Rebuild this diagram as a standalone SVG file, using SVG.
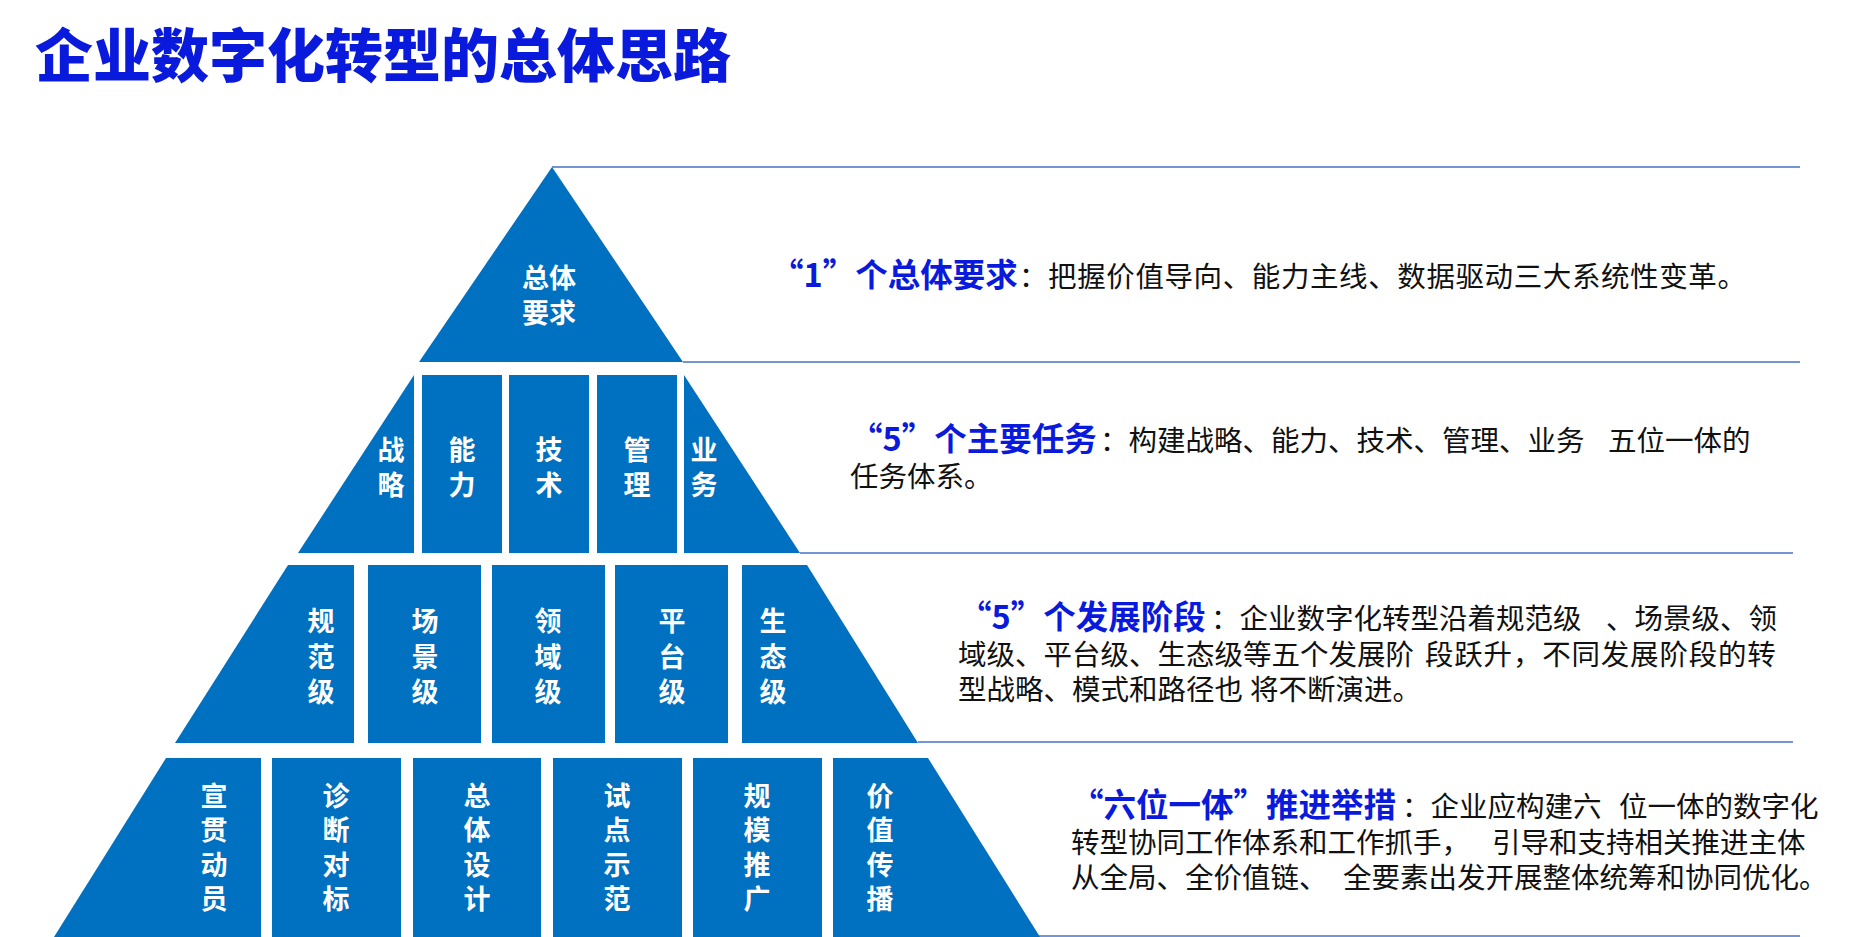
<svg xmlns="http://www.w3.org/2000/svg" width="1853" height="937" viewBox="0 0 1853 937">
<style>
.blk{fill:#0070C0}
.sep{stroke:#4472C4;stroke-width:1.5;fill:none}
.wt{fill:#FFFFFF;font-family:"Noto Sans CJK SC",sans-serif;font-weight:700;font-size:27px;text-anchor:middle}
.vt{fill:#FFFFFF;font-family:"Noto Sans CJK SC",sans-serif;font-weight:700;font-size:27px;writing-mode:vertical-rl;text-orientation:upright}
.t2{letter-spacing:8px}
.t3{letter-spacing:8.5px}
.t4{letter-spacing:7.5px}
.title{fill:#0A1ADC;font-family:"Noto Sans CJK SC",sans-serif;font-weight:900;font-size:58px}
.hd{fill:#0A1ADC;font-weight:700;font-size:32.5px}
.para{fill:#111111;font-family:"Noto Sans CJK SC",sans-serif;font-weight:400;font-size:28.5px}
</style>
<rect x="0" y="0" width="1853" height="937" fill="#FFFFFF"/>
<text class="title" x="35" y="77">企业数字化转型的总体思路</text>

<g id="separators">
<line class="sep" x1="552" y1="167" x2="1800" y2="167"/>
<line class="sep" x1="683" y1="362" x2="1800" y2="362"/>
<line class="sep" x1="800" y1="553" x2="1793" y2="553"/>
<line class="sep" x1="918" y1="742" x2="1793" y2="742"/>
<line class="sep" x1="1039" y1="936" x2="1800" y2="936"/>
</g>

<g id="tier1">
<g id="n-zongtiyaoqiu">
<polygon class="blk" points="552,167 683,362 419,362"/>
<text class="wt"><tspan x="549" y="288">总体</tspan><tspan x="549" y="323">要求</tspan></text>
</g>
</g>

<g id="tier2">
<g id="n-zhanlue"><polygon class="blk" points="414,375 414,553 298,553"/>
<text class="vt t2" x="391" y="436">战略</text></g>
<g id="n-nengli"><rect class="blk" x="422" y="375" width="80" height="178"/>
<text class="vt t2" x="462" y="436">能力</text></g>
<g id="n-jishu"><rect class="blk" x="509" y="375" width="80" height="178"/>
<text class="vt t2" x="549" y="436">技术</text></g>
<g id="n-guanli"><rect class="blk" x="597" y="375" width="80" height="178"/>
<text class="vt t2" x="637" y="436">管理</text></g>
<g id="n-yewu"><polygon class="blk" points="684,375 800,553 684,553"/>
<text class="vt t2" x="704" y="436">业务</text></g>
</g>

<g id="tier3">
<g id="n-guifanji"><polygon class="blk" points="288,565 354,565 354,743 175,743"/>
<text class="vt t3" x="321" y="607.5">规范级</text></g>
<g id="n-changjingji"><rect class="blk" x="368" y="565" width="113" height="178"/>
<text class="vt t3" x="425" y="607.5">场景级</text></g>
<g id="n-lingyuji"><rect class="blk" x="492" y="565" width="113" height="178"/>
<text class="vt t3" x="548" y="607.5">领域级</text></g>
<g id="n-pingtaiji"><rect class="blk" x="615" y="565" width="113" height="178"/>
<text class="vt t3" x="672" y="607.5">平台级</text></g>
<g id="n-shengtaiji"><polygon class="blk" points="742,565 807,565 918,743 742,743"/>
<text class="vt t3" x="773" y="607.5">生态级</text></g>
</g>

<g id="tier4">
<g id="n-xuanguan"><polygon class="blk" points="166,758 261,758 261,937 54,937"/>
<text class="vt t4" x="214" y="782">宣贯动员</text></g>
<g id="n-zhenduan"><rect class="blk" x="272" y="758" width="129" height="179"/>
<text class="vt t4" x="336" y="782">诊断对标</text></g>
<g id="n-zongtisheji"><rect class="blk" x="413" y="758" width="128" height="179"/>
<text class="vt t4" x="477" y="782">总体设计</text></g>
<g id="n-shidian"><rect class="blk" x="553" y="758" width="129" height="179"/>
<text class="vt t4" x="617" y="782">试点示范</text></g>
<g id="n-guimo"><rect class="blk" x="693" y="758" width="129" height="179"/>
<text class="vt t4" x="757" y="782">规模推广</text></g>
<g id="n-jiazhi"><polygon class="blk" points="833,758 928,758 1040,937 833,937"/>
<text class="vt t4" x="880" y="782">价值传播</text></g>
</g>

<g id="desc1">
<text class="para"><tspan class="hd" x="771" y="287">“1”个总体要求</tspan><tspan x="1019" y="287" letter-spacing="0.6">：把握价值导向、能力主线、数据驱动三大系统性变革。</tspan></text>
</g>
<g id="desc2">
<text class="para"><tspan class="hd" x="850" y="451">“5”个主要任务</tspan><tspan x="1100" y="451">：构建战略、能力、技术、管理、业务</tspan><tspan x="1608" y="451">五位一体的</tspan><tspan x="850" y="487">任务体系。</tspan></text>
</g>
<g id="desc3">
<text class="para"><tspan class="hd" x="959" y="629">“5”个发展阶段</tspan><tspan x="1211" y="629">：企业数字化转型沿着规范级</tspan><tspan x="1606" y="629">、场景级、领</tspan><tspan x="958" y="665">域级、平台级、生态级等五个发展阶</tspan><tspan x="1425" y="665" letter-spacing="0.8">段跃升，不同发展阶段的转</tspan><tspan x="958" y="700">型战略、模式和路径也</tspan><tspan x="1250" y="700">将不断演进。</tspan></text>
</g>
<g id="desc4">
<text class="para"><tspan class="hd" x="1071" y="817">“六位一体”推进举措</tspan><tspan x="1402" y="817">：企业应构建六</tspan><tspan x="1619" y="817">位一体的数字化</tspan><tspan x="1071" y="853">转型协同工作体系和工作抓手，</tspan><tspan x="1492" y="853">引导和支持相关推进主体</tspan><tspan x="1071" y="888">从全局、全价值链、</tspan><tspan x="1343" y="888">全要素出发开展整体统筹和协同优化。</tspan></text>
</g>
</svg>
